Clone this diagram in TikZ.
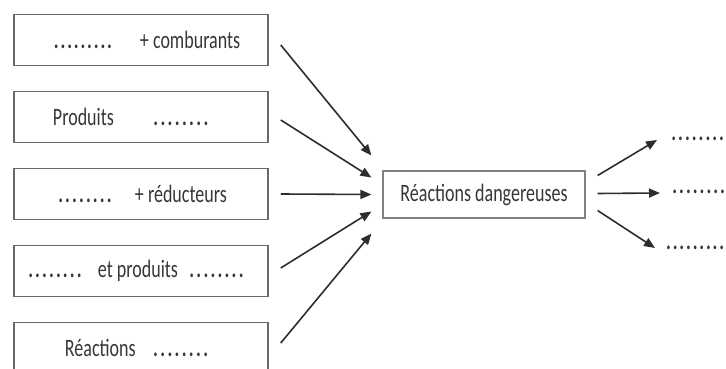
\documentclass[tikz,border=0pt]{standalone}
\usepackage{fontspec}
\setmainfont{Carlito}[FakeStretch=0.72]
\usepackage{tikz}
\usetikzlibrary{arrows.meta,positioning,calc}
\definecolor{edge}{RGB}{105,105,105}
\definecolor{ink}{RGB}{55,55,55}
\definecolor{arrowc}{RGB}{45,45,45}
\newcommand{\blanks}[1]{\makebox[#1]{\xleaders\hbox to 6.5pt{\hss\textbf{.}\hss}\hfill}}
\tikzset{
  box/.style={draw=edge, line width=1.5pt, inner sep=0pt, minimum width=254pt,
              minimum height=51pt, text=ink, font=\fontsize{25}{27}\selectfont},
  hub/.style={draw=edge!85, line width=1.2pt, inner sep=0pt, minimum width=202pt,
              minimum height=47pt, text=ink, font=\fontsize{25}{27}\selectfont},
  blank/.style={inner sep=0pt, anchor=west, text=ink, font=\fontsize{25}{27}\selectfont},
  flow/.style={-{Triangle[length=11pt,width=9pt]}, arrowc, line width=1.6pt},
}
\begin{document}
\begin{tikzpicture}[x=1pt,y=1pt]
  \useasboundingbox (0,0) rectangle (726,-369);
  % boxes on the left
  \node[box] (b1) at (141,-40)  {\makebox[254pt][l]{\hspace{39pt}\blanks{60pt}\hspace{27pt}+ comburants}};
  \node[box] (b2) at (141,-117) {\makebox[254pt][l]{\hspace{39pt}Produits\hspace{38pt}\blanks{58pt}}};
  \node[box] (b3) at (141,-194) {\makebox[254pt][l]{\hspace{43pt}\blanks{56pt}\hspace{22pt}+ réducteurs}};
  \node[box] (b4) at (141,-271) {\makebox[254pt][l]{\hspace{13pt}\blanks{56pt}\hspace{15pt}et produits\hspace{10pt}\blanks{57pt}}};
  \node[box] (b5) at (141,-348) {\makebox[254pt][l]{\hspace{51pt}Réactions\hspace{16pt}\blanks{58pt}}};
  % central box and outcomes
  \node[hub] (react) at (484,-194.5) {Réactions dangereuses};
  \node[blank] (out1) at (670,-139) {\blanks{55pt}};
  \node[blank] (out2) at (671,-192) {\blanks{55pt}};
  \node[blank] (out3) at (665,-248) {\blanks{60pt}};
  % incoming arrows
  \draw[flow] ([shift={(12,-5)}]b1.east) -- ([shift={(-11,39)}]react.west);
  \draw[flow] ([shift={(12,-3)}]b2.east) -- ([shift={(-11,17)}]react.west);
  \draw[flow] ([shift={(12,0)}]b3.east)  -- ([shift={(-11,0)}]react.west);
  \draw[flow] ([shift={(12,3)}]b4.east)  -- ([shift={(-11,-17)}]react.west);
  \draw[flow] ([shift={(12,5)}]b5.east)  -- ([shift={(-11,-39)}]react.west);
  % outgoing arrows
  \draw[flow] ([shift={(12,19)}]react.east)  -- ([shift={(-13,-1)}]out1.west);
  \draw[flow] ([shift={(12,1)}]react.east)   -- ([shift={(-11,-1)}]out2.west);
  \draw[flow] ([shift={(12,-16)}]react.east) -- ([shift={(-10,0)}]out3.west);
\end{tikzpicture}
\end{document}
